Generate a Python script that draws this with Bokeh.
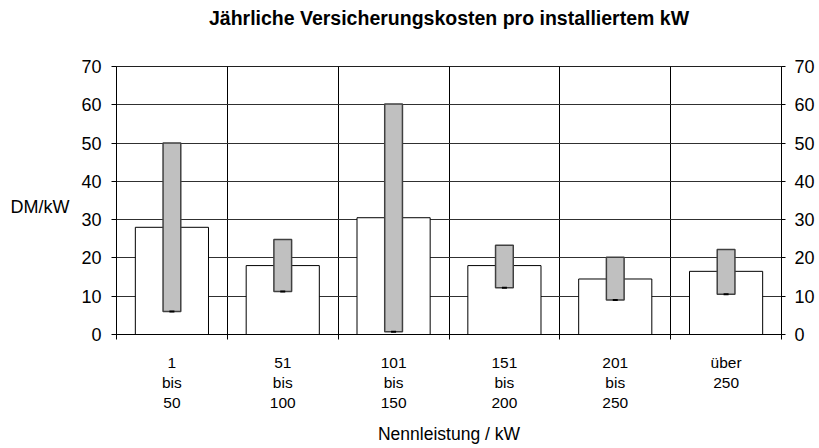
from bokeh.plotting import figure
from bokeh.models import Range1d, FixedTicker, LinearAxis, ColumnDataSource
from bokeh.embed import file_html
from bokeh.resources import INLINE

# ---- data ----
categories = ["1\nbis\n50", "51\nbis\n100", "101\nbis\n150",
              "151\nbis\n200", "201\nbis\n250", "über\n250"]
mean_cost = [28.0, 18.0, 30.5, 18.0, 14.5, 16.5]
min_cost = [6.0, 11.2, 0.7, 12.2, 9.0, 10.5]
max_cost = [50.0, 24.8, 60.2, 23.3, 20.2, 22.2]
y_ticks = [0, 10, 20, 30, 40, 50, 60, 70]
title_text = "Jährliche Versicherungskosten pro installiertem kW"
x_title = "Nennleistung / kW"
y_title = "DM/kW"

FONT = "Liberation Sans"

n = len(categories)
xc = [i + 0.5 for i in range(n)]
bounds = list(range(0, n + 1))

src = ColumnDataSource(dict(x=xc, mean=mean_cost, lo=min_cost, hi=max_cost))

p = figure(width=817, height=448, output_backend="svg", toolbar_location=None,
           x_range=Range1d(0, n), y_range=Range1d(0, 70),
           min_border_left=116, min_border_right=35,
           min_border_top=66, min_border_bottom=114)

p.outline_line_color = "#202020"
p.outline_line_width = 1

# bars
p.vbar(x="x", top="mean", bottom=0, width=0.66, source=src,
       fill_color="white", line_color="black", line_width=1)
p.vbar(x="x", top="hi", bottom="lo", width=0.16, source=src,
       fill_color="#c0c0c0", line_color="#404040", line_width=1.5)
p.scatter(x="x", y="lo", source=src, marker="dash", size=5,
          line_color="black", line_width=2)

# x axis
xa = p.xaxis[0]
xa.ticker = FixedTicker(ticks=xc, minor_ticks=bounds)
xa.major_label_overrides = {x: c for x, c in zip(xc, categories)}
xa.major_tick_out = 0
xa.major_tick_in = 0
xa.minor_tick_out = 5
xa.minor_tick_in = 0
xa.minor_tick_line_color = "black"
xa.axis_line_color = "black"
xa.major_label_standoff = 14
xa.major_label_text_font = FONT
xa.major_label_text_font_size = "15.5px"
xa.major_label_text_color = "black"
xa.axis_label = x_title
xa.axis_label_text_font = FONT
xa.axis_label_text_font_size = "17.5px"
xa.axis_label_text_font_style = "normal"
xa.axis_label_text_color = "black"
xa.axis_label_standoff = 10

# title drawn as a label of an axis above the frame
ta = LinearAxis(ticker=FixedTicker(ticks=[n / 2], minor_ticks=[]))
ta.major_label_overrides = {n / 2: title_text}
ta.axis_line_color = None
ta.major_tick_line_color = None
ta.major_tick_out = 0
ta.major_tick_in = 0
ta.major_label_standoff = 38
ta.major_label_text_font = FONT
ta.major_label_text_font_size = "19.5px"
ta.major_label_text_font_style = "bold"
ta.major_label_text_color = "black"
p.add_layout(ta, "above")

# y axes
ya = p.yaxis[0]
ya.ticker = FixedTicker(ticks=y_ticks, minor_ticks=[])
ya.major_tick_out = 5
ya.major_tick_in = 0
ya.major_label_standoff = 10
ya.major_label_text_font = FONT
ya.major_label_text_font_size = "18px"
ya.major_label_text_color = "black"
ya.axis_line_color = "black"
ya.major_tick_line_color = "black"

# unit label left of the tick labels
ua = LinearAxis(ticker=FixedTicker(ticks=[33.4], minor_ticks=[]))
ua.major_label_overrides = {33.4: y_title}
ua.axis_line_color = None
ua.major_tick_line_color = None
ua.major_tick_out = 0
ua.major_tick_in = 0
ua.major_label_standoff = 9
ua.major_label_text_font = FONT
ua.major_label_text_font_size = "18px"
ua.major_label_text_color = "black"
p.add_layout(ua, "left")

ra = LinearAxis(ticker=FixedTicker(ticks=y_ticks, minor_ticks=[]))
ra.major_tick_out = 4
ra.major_tick_in = 0
ra.major_label_standoff = 9
ra.major_label_text_font = FONT
ra.major_label_text_font_size = "18px"
ra.major_label_text_color = "black"
ra.axis_line_color = "black"
ra.major_tick_line_color = "black"
p.add_layout(ra, "right")

# grids
p.xgrid.ticker = FixedTicker(ticks=bounds[1:-1])
p.xgrid.grid_line_color = "black"
p.xgrid.grid_line_width = 1
p.ygrid.ticker = FixedTicker(ticks=y_ticks[1:])
p.ygrid.grid_line_color = "#303030"
p.ygrid.grid_line_width = 1

open("out.html", "w").write(file_html(p, INLINE))
